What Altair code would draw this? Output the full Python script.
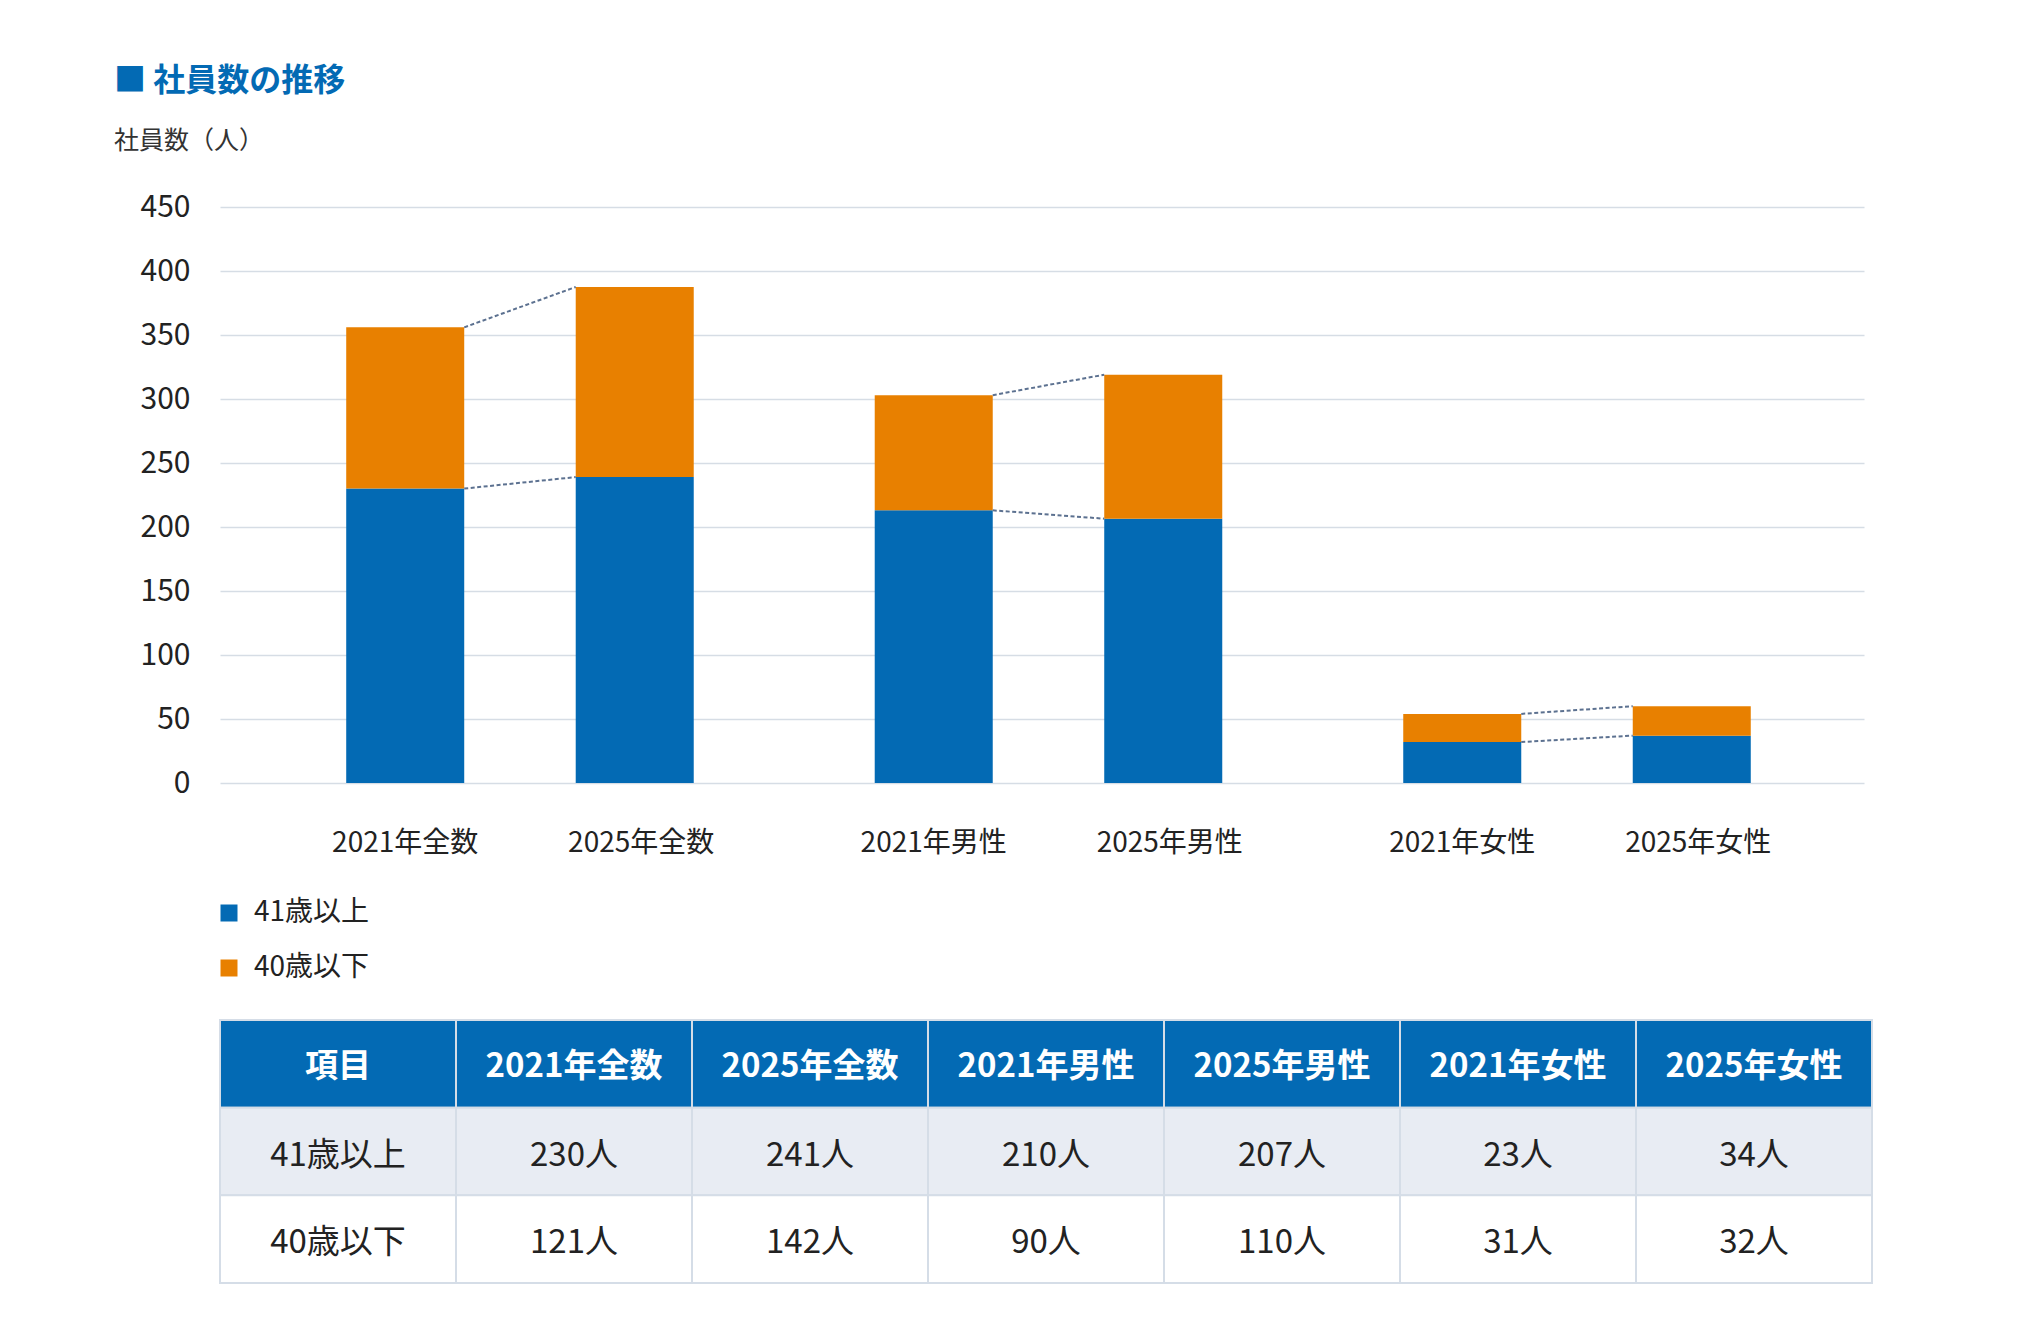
import altair as alt
import pandas as pd

FONT = "Noto Sans CJK JP"
BLUE = "#036ab4"
ORANGE = "#e88000"
TEXT = "#222222"

# ---- data ----
categories = ["2021年全数", "2025年全数", "2021年男性", "2025年男性", "2021年女性", "2025年女性"]
groups = ["全数", "全数", "男性", "男性", "女性", "女性"]
years = ["2021", "2025", "2021", "2025", "2021", "2025"]
group_order = ["全数", "男性", "女性"]
year_order = ["2021", "2025"]
series = ["41歳以上", "40歳以下"]
over41_bar = [230, 239, 213, 206.5, 32, 37]
under40_bar = [126, 148.5, 90, 112.5, 22, 23]
y_ticks = [0, 50, 100, 150, 200, 250, 300, 350, 400, 450]

table_head = ["項目"] + categories
table_over41 = ["230人", "241人", "210人", "207人", "23人", "34人"]
table_under40 = ["121人", "142人", "90人", "110人", "31人", "32人"]

# ---- tables built from the arrays ----
rows = []
for i, cat in enumerate(categories):
    lo = 0
    for s, vals in ((series[0], over41_bar), (series[1], under40_bar)):
        rows.append(dict(cat=cat, group=groups[i], year=years[i], series=s, lo=lo, hi=lo + vals[i]))
        lo += vals[i]
bar_df = pd.DataFrame(rows)

crow = []
for j, g in enumerate(group_order):
    i1, i2 = 2 * j, 2 * j + 1
    lows = (over41_bar[i1], over41_bar[i2])
    tops = (over41_bar[i1] + under40_bar[i1], over41_bar[i2] + under40_bar[i2])
    for lvl, (a, b) in (("low", lows), ("top", tops)):
        crow.append(dict(cid=g + lvl, group=g, side="L", v=a))
        crow.append(dict(cid=g + lvl, group=g, side="R", v=b))
conn_df = pd.DataFrame(crow)

lab_df = pd.DataFrame(dict(cat=categories, group=groups, year=years))

x_scale = alt.Scale(paddingInner=0, paddingOuter=0.0553, align=0.611)
x_enc = alt.X("group:N", sort=group_order, axis=None, scale=x_scale)
bar_off = alt.XOffset("year:N", sort=year_order,
                      scale=alt.Scale(type="band", paddingInner=0.4858, paddingOuter=0.3943))
lab_off = alt.XOffset("year:N", sort=year_order,
                      scale=alt.Scale(type="point", padding=0.6197, align=0.511))
y_scale = alt.Scale(domain=[0, 450], nice=False)

bars = alt.Chart(bar_df).mark_bar().encode(
    x=x_enc,
    xOffset=bar_off,
    y=alt.Y("lo:Q", scale=y_scale,
            axis=alt.Axis(values=y_ticks, title=None, domain=False, ticks=False, tickSize=0,
                          labelPadding=30, labelFontSize=30, labelColor=TEXT, labelFont=FONT,
                          gridColor="#d6dde5", gridWidth=1.7, minExtent=106, maxExtent=106)),
    y2="hi:Q",
    color=alt.Color("series:N", sort=series,
                    scale=alt.Scale(domain=series, range=[BLUE, ORANGE]),
                    legend=alt.Legend(title=None, orient="none", legendX=-5, legendY=692,
                                      direction="vertical", symbolType="square", symbolSize=289,
                                      symbolStrokeWidth=0, symbolOpacity=1,
                                      labelFontSize=28, labelFont=FONT, labelColor=TEXT,
                                      labelOffset=11, rowPadding=27, padding=0)),
)

# connector ends sit on the bars' inner edges: 4-slot point scale, only the middle two used
conn = alt.Chart(conn_df).mark_line(strokeDash=[4, 2.5], strokeWidth=2, color="#5c7190").encode(
    x=x_enc,
    xOffset=alt.XOffset("side:N", scale=alt.Scale(type="point", domain=["a", "L", "R", "b"],
                                                  padding=0.87)),
    y=alt.Y("v:Q", scale=y_scale),
    detail="cid:N",
)

labels = alt.Chart(lab_df).mark_text(dy=61, fontSize=28, font=FONT, color=TEXT,
                                      baseline="middle", align="center").encode(
    x=x_enc,
    xOffset=lab_off,
    y=alt.datum(0),
    text="cat:N",
)

plot = alt.layer(bars, conn, labels).resolve_scale(xOffset="independent").properties(
    width=1644, height=576)

# ---- table ----
row_keys = ["h", "a", "b"]
trows = []
for i, h in enumerate(table_head):
    trows.append(dict(col=h, row="h", text=h))
    trows.append(dict(col=h, row="a", text=series[0] if i == 0 else table_over41[i - 1]))
    trows.append(dict(col=h, row="b", text=series[1] if i == 0 else table_under40[i - 1]))
tdf = pd.DataFrame(trows)

tx = alt.X("col:N", sort=table_head, axis=None, scale=alt.Scale(paddingInner=0, paddingOuter=0))
ty = alt.Y("row:N", sort=row_keys, scale=alt.Scale(paddingInner=0, paddingOuter=0),
           axis=alt.Axis(title=None, labelOpacity=0, ticks=False, domain=False, grid=False,
                         minExtent=106, maxExtent=106))

cells = alt.Chart(tdf).mark_rect(stroke="#d5dde7", strokeWidth=2).encode(
    x=tx, y=ty,
    fill=alt.Fill("row:N", scale=alt.Scale(domain=row_keys, range=[BLUE, "#e8ecf3", "#ffffff"]),
                  legend=None),
)
head_text = alt.Chart(tdf).transform_filter("datum.row == 'h'").mark_text(
    font=FONT, fontSize=33, fontWeight="bold", color="white", dy=3).encode(
    x=tx, y=ty, text="text:N")
body_text = alt.Chart(tdf).transform_filter("datum.row != 'h'").mark_text(
    font=FONT, fontSize=33, color=TEXT, dy=4).encode(x=tx, y=ty, text="text:N")

table = alt.layer(cells, head_text, body_text).properties(width=1652, height=263)

chart = alt.vconcat(plot, table, spacing=161).properties(
    title=alt.TitleParams(text="■  社員数の推移", subtitle="社員数（人）", anchor="start",
                          frame="bounds", font=FONT, fontSize=32, fontWeight="bold", color=BLUE,
                          subtitleFont=FONT, subtitleFontSize=25, subtitleColor="#333333",
                          subtitlePadding=31, offset=37.5),
    padding={"left": 106, "top": 56, "right": 20, "bottom": 20},
).configure(font=FONT).configure_view(stroke=None)

chart.save("out.html", embed_options={"renderer": "svg", "actions": False})
